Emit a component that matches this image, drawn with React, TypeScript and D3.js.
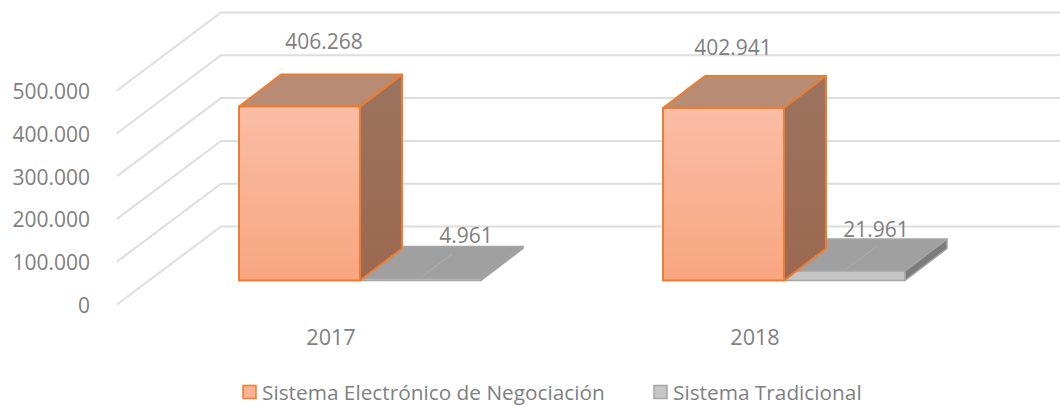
import React from 'react';
import * as d3 from 'd3';

const years = ['2017', '2018'];
const seriesNames = ['Sistema Electrónico de Negociación', 'Sistema Tradicional'];
const electronico = [406268, 402941];
const tradicional = [4961, 21961];
const yTicks = [0, 100000, 200000, 300000, 400000, 500000];

const width = 1060;
const height = 405;
const wallDepth = { x: 104, y: -78 };
const barDepth = { x: 42, y: -32 };
const baseY = 280.5;
// data labels were dragged by hand in the original
const labelNudge = [
  [{ x: 85, y: -66 }, { x: 106, y: -43 }],
  [{ x: 70, y: -61 }, { x: 92, y: -42 }],
];

const fmt = d3.formatLocale({ decimal: ',', thousands: '.', grouping: [3], currency: ['', ''] }).format(',d');
const font = '"Open Sans", sans-serif';
const textColor = '#7f7f7f';

const themes = [
  { stroke: '#ed7d31', strokeWidth: 2, front: 'url(#frontOrange)', top: '#b88b75', side: 'url(#sideOrange)' },
  { stroke: '#a5a5a5', strokeWidth: 1.5, front: '#c6c6c6', top: '#a0a0a0', side: '#7c7c7c' },
];

const poly = (pts: number[][]) => d3.line()(pts as [number, number][]) + 'Z';

const Box = ({ x, w, h, theme }: any) => {
  const top = baseY - h;
  const dx = barDepth.x;
  const dy = barDepth.y;
  return (
    <g stroke={theme.stroke} strokeWidth={theme.strokeWidth} strokeLinejoin="round">
      <path d={poly([[x, top], [x + dx, top + dy], [x + w + dx, top + dy], [x + w, top]])} fill={theme.top} />
      <path d={poly([[x + w, top], [x + w + dx, top + dy], [x + w + dx, baseY + dy], [x + w, baseY]])} fill={theme.side} />
      <rect x={x} y={top} width={w} height={h} fill={theme.front} />
    </g>
  );
};

export default function App() {
  const yFront = d3.scaleLinear().domain([0, 500000]).range([304.5, 90.5]);
  const xCat = d3.scaleBand().domain(years).range([119, 967]);
  const xSeries = d3.scaleBand().domain(seriesNames).range([120, 362]);
  const barHeight = (v: number) => yFront(0) - yFront(v);
  const values = [electronico, tradicional];

  return (
    <svg width={width} height={height} style={{ position: 'absolute', left: 0, top: 0 }} fontFamily={font}>
      <defs>
        <linearGradient id="frontOrange" x1="0" y1="0" x2="0" y2="1">
          <stop offset="0" stopColor="#f9bda5" />
          <stop offset="1" stopColor="#f9a680" />
        </linearGradient>
        <linearGradient id="sideOrange" x1="0" y1="0" x2="0" y2="1">
          <stop offset="0" stopColor="#9b735f" />
          <stop offset="1" stopColor="#9d6850" />
        </linearGradient>
      </defs>

      {/* walls */}
      {yTicks.map((t) => {
        const y = yFront(t);
        return (
          <path
            key={t}
            d={d3.line()([[117, y], [117 + wallDepth.x, y + wallDepth.y], [width, y + wallDepth.y]])!}
            fill="none"
            stroke="#dedede"
            strokeWidth={2}
          />
        );
      })}

      {yTicks.map((t) => (
        <text key={t} x={90} y={yFront(t) + 0.5} textAnchor="end" dominantBaseline="central" fontSize={21} fill={textColor}>
          {fmt(t)}
        </text>
      ))}

      {/* bars */}
      {years.map((year, i) => {
        const x0 = xCat(year)!;
        return (
          <g key={year}>
            {[1, 0].map((s) => {
              const x = x0 + xSeries(seriesNames[s])!;
              const w = xSeries.bandwidth();
              const h = barHeight(values[s][i]);
              return (
                <g key={s}>
                  <Box x={x} w={w} h={h} theme={themes[s]} />
                  {s === 1 && (
                    <line
                      x1={x + w / 2}
                      y1={baseY - h - 1}
                      x2={x + w / 2 + barDepth.x * 0.75}
                      y2={baseY - h + barDepth.y * 0.75}
                      stroke="#adadad"
                      strokeWidth={1}
                    />
                  )}
                </g>
              );
            })}
            {[0, 1].map((s) => {
              const x = x0 + xSeries(seriesNames[s])!;
              const h = barHeight(values[s][i]);
              const n = labelNudge[i][s];
              return (
                <text
                  key={s}
                  x={x + n.x}
                  y={baseY - h + n.y}
                  textAnchor="middle"
                  dominantBaseline="central"
                  fontSize={21}
                  fill={textColor}
                >
                  {fmt(values[s][i])}
                </text>
              );
            })}
            <text x={x0 + xCat.bandwidth() / 2} y={336} textAnchor="middle" dominantBaseline="central" fontSize={21.6} fill={textColor}>
              {year}
            </text>
          </g>
        );
      })}

      {/* legend */}
      {seriesNames.map((name, s) => {
        const lx = [243, 654][s];
        return (
          <g key={name}>
            <rect x={lx} y={385.5} width={13} height={13} fill={s === 0 ? '#f9b394' : '#c6c6c6'} stroke={themes[s].stroke} strokeWidth={1.5} />
            <text x={lx + 19} y={392} dominantBaseline="central" fontSize={20.8} fill={textColor}>
              {name}
            </text>
          </g>
        );
      })}
    </svg>
  );
}
